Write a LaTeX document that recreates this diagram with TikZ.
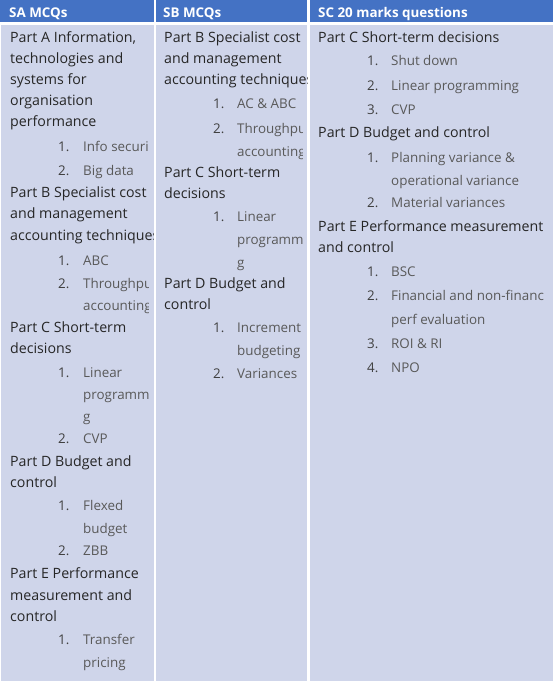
\documentclass[tikz,border=0pt]{standalone}
\usepackage{fontspec}
\setmainfont{Open Sans}
\definecolor{hdblue}{HTML}{4472C4}
\definecolor{cellbg}{HTML}{CFD5EA}
\definecolor{parttxt}{HTML}{262626}
\definecolor{numtxt}{HTML}{404040}
\definecolor{itemtxt}{HTML}{595959}
\usetikzlibrary{calc}

\begin{document}
\begin{tikzpicture}[x=1pt,y=-1pt,
  hd/.style={anchor=base west,inner sep=0pt,text=white,font=\fontsize{13.4}{16}\selectfont\bfseries},
  part/.style={anchor=base west,inner sep=0pt,text=parttxt,font=\fontsize{14.2}{16}\selectfont},
  num/.style={anchor=base west,inner sep=0pt,text=numtxt,font=\fontsize{13.4}{16}\selectfont},
  item/.style={anchor=base west,inner sep=0pt,text=itemtxt,font=\fontsize{13.4}{16}\selectfont}]
\fill[white] (0,0) rectangle (553,682); \useasboundingbox (0,0) rectangle (553,682);
\fill[hdblue] (0,0) rectangle (153.5,22); \fill[hdblue] (156,0) rectangle (307,22); \fill[hdblue] (309.5,0) rectangle (553,22);
\fill[cellbg] (1,25) rectangle (153.5,681); \fill[cellbg] (156,25) rectangle (307,681); \fill[cellbg] (309.5,25) rectangle (553,681);
\node[hd] (sa) at (9,17.5) {SA MCQs}; \node[hd] (sb) at (163,17.5) {SB MCQs}; \node[hd] (sc) at (318,17.5) {SC 20 marks questions};

\begin{scope}
\clip (1,25) rectangle (153.5,681);
\node[part] (a1) at (10,43) {Part A Information,}; \node[part] (a2) at (10,64) {technologies and};
\node[part] (a3) at (10,85) {systems for}; \node[part] (a4) at (10,106) {organisation};
\node[part] (a5) at (10,127) {performance};
\node[part] (a6) at (10,197) {Part B Specialist cost}; \node[part] (a7) at (10,218) {and management};
\node[part] (a8) at (10,240) {accounting techniques};
\node[part] (a9) at (10,332) {Part C Short-term}; \node[part] (a10) at (10,353) {decisions};
\node[part] (a11) at (10,466) {Part D Budget and}; \node[part] (a12) at (10,487) {control};
\node[part] (a13) at (10,578) {Part E Performance}; \node[part] (a14) at (10,600) {measurement and};
\node[part] (a15) at (10,621) {control};
\end{scope}
\begin{scope}
\clip (1,25) rectangle (148,681);
\node[num] (an1) at (58,151) {1.}; \node[item] (ai1) at (83,151) {Info securi};
\node[num] (an2) at (58,175) {2.}; \node[item] (ai2) at (83,175) {Big data};
\node[num] (an3) at (58,265) {1.}; \node[item] (ai3) at (83,265) {ABC};
\node[num] (an4) at (58,288) {2.}; \node[item] (ai4) at (83,288) {Throughpu}; \node[item] (ai5) at (83,310) {accounting};
\node[num] (an5) at (58,377) {1.}; \node[item] (ai6) at (83,377) {Linear};
\node[item] (ai7) at (83,399) {programm}; \node[item] (ai8) at (83,421) {g};
\node[num] (an6) at (58,443) {2.}; \node[item] (ai9) at (83,443) {CVP};
\node[num] (an7) at (58,510) {1.}; \node[item] (ai10) at (83,510) {Flexed}; \node[item] (ai11) at (83,533) {budget};
\node[num] (an8) at (58,555) {2.}; \node[item] (ai12) at (83,555) {ZBB};
\node[num] (an9) at (58,644) {1.}; \node[item] (ai13) at (83,644) {Transfer}; \node[item] (ai14) at (83,667) {pricing};
\end{scope}

\begin{scope}
\clip (156,25) rectangle (307,681);
\node[part] (b1) at (164,43) {Part B Specialist cost}; \node[part] (b2) at (164,64) {and management};
\node[part] (b3) at (164,85) {accounting techniques};
\node[part] (b4) at (164,177) {Part C Short-term}; \node[part] (b5) at (164,198) {decisions};
\node[part] (b6) at (164,288) {Part D Budget and}; \node[part] (b7) at (164,309) {control};
\end{scope}
\begin{scope}
\clip (156,25) rectangle (302,681);
\node[num] (bn1) at (213,109) {1.}; \node[item] (bi1) at (237,109) {AC \& ABC};
\node[num] (bn2) at (213,133) {2.}; \node[item] (bi2) at (237,133) {Throughpu}; \node[item] (bi3) at (237,156) {accounting};
\node[num] (bn3) at (213,221) {1.}; \node[item] (bi4) at (237,221) {Linear};
\node[item] (bi5) at (237,244) {programm}; \node[item] (bi6) at (237,267) {g};
\node[num] (bn4) at (213,332) {1.}; \node[item] (bi7) at (237,332) {Increment}; \node[item] (bi8) at (237,355) {budgeting};
\node[num] (bn5) at (213,378) {2.}; \node[item] (bi9) at (237,378) {Variances};
\end{scope}

\begin{scope}
\clip (309.5,25) rectangle (553,681);
\node[part] (c1) at (318,43) {Part C Short-term decisions};
\node[part] (c2) at (318,138) {Part D Budget and control};
\node[part] (c3) at (318,231) {Part E Performance measurement}; \node[part] (c4) at (318,252) {and control};
\end{scope}
\begin{scope}
\clip (309.5,25) rectangle (546,681);
\node[num] (cn1) at (367,66) {1.}; \node[item] (ci1) at (391,66) {Shut down};
\node[num] (cn2) at (367,91) {2.}; \node[item] (ci2) at (391,91) {Linear programming};
\node[num] (cn3) at (367,115) {3.}; \node[item] (ci3) at (391,115) {CVP};
\node[num] (cn4) at (367,162) {1.}; \node[item] (ci4) at (391,162) {Planning variance \&}; \node[item] (ci5) at (391,185) {operational variance};
\node[num] (cn5) at (367,207) {2.}; \node[item] (ci6) at (391,207) {Material variances};
\node[num] (cn6) at (367,276) {1.}; \node[item] (ci7) at (391,276) {BSC};
\node[num] (cn7) at (367,300) {2.}; \node[item] (ci8) at (391,300) {Financial and non-financ}; \node[item] (ci9) at (391,324) {perf evaluation};
\node[num] (cn8) at (367,348) {3.}; \node[item] (ci10) at (391,348) {ROI \& RI};
\node[num] (cn9) at (367,372) {4.}; \node[item] (ci11) at (391,372) {NPO};
\end{scope}
\end{tikzpicture}
\end{document}
